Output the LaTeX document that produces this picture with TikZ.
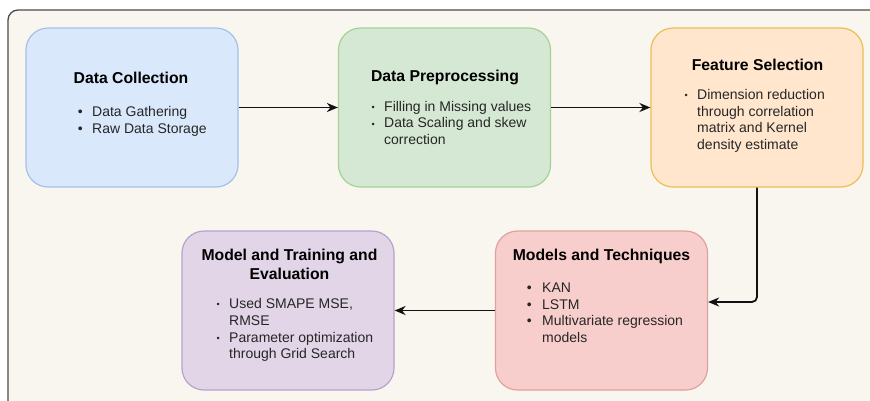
\documentclass[tikz,border=0pt]{standalone}
\usepackage{fontspec}
\setmainfont{Liberation Sans}
\usepackage{graphicx}
\usetikzlibrary{arrows.meta}
\definecolor{bgfill}{HTML}{F8F6EF}
\definecolor{bgline}{HTML}{4A4A4A}
\definecolor{bluef}{HTML}{DAE8FC}\definecolor{bluel}{HTML}{A4C0E8}
\definecolor{greenf}{HTML}{D5E8D4}\definecolor{greenl}{HTML}{A5D295}
\definecolor{orangef}{HTML}{FFE6CC}\definecolor{orangel}{HTML}{EDBE55}
\definecolor{purplef}{HTML}{E1D5E7}\definecolor{purplel}{HTML}{B8A2CC}
\definecolor{redf}{HTML}{F8CECC}\definecolor{redl}{HTML}{E0A0A0}
\definecolor{bodyc}{HTML}{262626}
\newcommand\bigb[1]{\llap{\textbullet\hspace{#1pt}}}
\newcommand\smb[1]{\llap{\raisebox{0.6pt}{\scalebox{0.65}{\textbullet}}\hspace{#1pt}}}
\begin{document}
\begin{tikzpicture}[x=1pt,y=-1pt,
  bgframe/.style={fill=bgfill,draw=bgline,line width=1.3pt,rounded corners=10pt},
  stage/.style={rounded corners=22pt,line width=1.2pt,minimum width=212pt,minimum height=159pt,inner sep=0pt},
  title/.style={font=\fontsize{15.75}{19}\selectfont\bfseries,text=black,inner sep=0pt,anchor=base},
  body/.style={font=\fontsize{14}{16.7}\selectfont,text=bodyc,inner sep=0pt,anchor=base west},
  flow/.style={line width=1.8pt,draw=black!93,-{Stealth[length=11pt,width=9pt,inset=3.5pt]}}]
\useasboundingbox (0,0) rectangle (870,400);
\fill[white] (0,0) rectangle (870,400);
\begin{scope}
\clip (0,0) rectangle (870,400);
\draw[bgframe] (8,10) rectangle (900,430);
\end{scope}

% stage boxes
\node[stage,fill=bluef,draw=bluel] (dc) at (132,107.5) {};
\node[stage,fill=greenf,draw=greenl] (dp) at (444.5,107.5) {};
\node[stage,fill=orangef,draw=orangel] (fs) at (757,107.5) {};
\node[stage,fill=purplef,draw=purplel] (me) at (288,310.5) {};
\node[stage,fill=redf,draw=redl] (mt) at (601.5,310.5) {};

% Data Collection
\node[title] (dct) at (131,83) {Data Collection};
\node[body] (dc1) at (92,116.7) {\bigb{9.5}Data Gathering};
\node[body] (dc2) at (92,133.4) {\bigb{9.5}Raw Data Storage};

% Data Preprocessing
\node[title] (dpt) at (445,81.7) {Data Preprocessing};
\node[body] (dp1) at (384,111) {\smb{9.3}Filling in Missing values};
\node[body] (dp2) at (384,127.7) {\smb{9.3}Data Scaling and skew};
\node[body] (dp3) at (384,144.4) {correction};

% Feature Selection
\node[title] (fst) at (757.5,70) {Feature Selection};
\node[body] (fs1) at (697,99.3) {\smb{9.3}Dimension reduction};
\node[body] (fs2) at (697,116) {through correlation};
\node[body] (fs3) at (697,132.7) {matrix and Kernel};
\node[body] (fs4) at (697,149.4) {density estimate};

% Model and Training and Evaluation
\node[title] (met1) at (289.5,260) {Model and Training and};
\node[title] (met2) at (289.5,279.3) {Evaluation};
\node[body] (me1) at (229,308.5) {\smb{9.3}Used SMAPE MSE,};
\node[body] (me2) at (229,325) {RMSE};
\node[body] (me3) at (229,342.2) {\smb{9.3}Parameter optimization};
\node[body] (me4) at (229,358.9) {through Grid Search};

% Models and Techniques
\node[title] (mtt) at (601.5,260) {Models and Techniques};
\node[body] (mt1) at (542,292.3) {\bigb{10.5}KAN};
\node[body] (mt2) at (542,309.1) {\bigb{10.5}LSTM};
\node[body] (mt3) at (542,325.9) {\bigb{10.5}Multivariate regression};
\node[body] (mt4) at (542,342.6) {models};

% connectors
\draw[flow] (dc.east) -- (dp.west);
\draw[flow] (dp.east) -- (fs.west);
\coordinate (mtin) at ([yshift=8.5pt]mt.east);
\draw[flow,rounded corners=5pt] (fs.south) |- (mtin);
\draw[flow] (mt.west) -- (me.east);
\end{tikzpicture}
\end{document}
